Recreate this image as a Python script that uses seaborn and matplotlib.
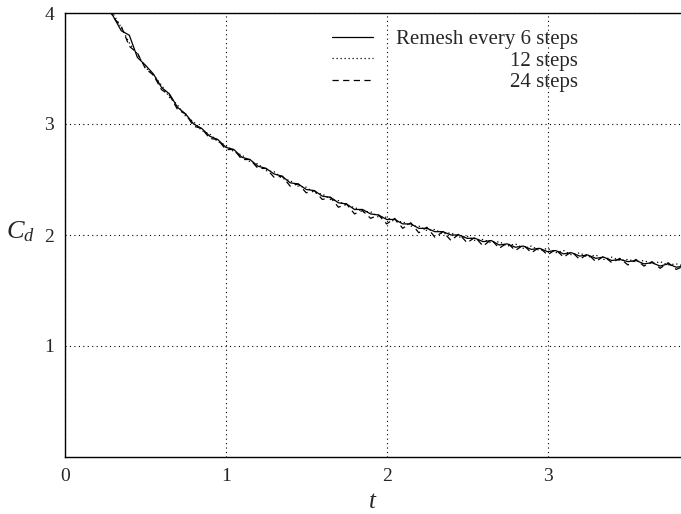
import numpy as np
import pandas as pd
import matplotlib
matplotlib.use("Agg")
import matplotlib.pyplot as plt
import seaborn as sns

t = np.round(np.arange(0.25, 3.851, 0.05), 2)

cd_6 = [4.10, 3.97, 3.84, 3.80, 3.60, 3.53, 3.45, 3.33, 3.27, 3.15,
        3.09, 3.00, 2.96, 2.89, 2.86, 2.79, 2.77, 2.70, 2.68, 2.62,
        2.60, 2.55, 2.53, 2.47, 2.46, 2.41, 2.40, 2.35, 2.34, 2.29,
        2.28, 2.23, 2.23, 2.19, 2.18, 2.14, 2.14, 2.10, 2.10, 2.06,
        2.06, 2.03, 2.03, 2.00, 2.00, 1.97, 1.97, 1.94, 1.95, 1.91,
        1.92, 1.89, 1.90, 1.87, 1.88, 1.85, 1.86, 1.83, 1.84, 1.81,
        1.82, 1.79, 1.80, 1.77, 1.78, 1.76, 1.77, 1.74, 1.75, 1.72,
        1.74, 1.71, 1.72]
cd_12 = [4.11, 3.99, 3.87, 3.73, 3.63, 3.51, 3.44, 3.35, 3.24, 3.17,
         3.07, 3.02, 2.94, 2.91, 2.84, 2.81, 2.75, 2.72, 2.66, 2.64,
         2.58, 2.57, 2.51, 2.49, 2.44, 2.43, 2.38, 2.37, 2.32, 2.31,
         2.26, 2.25, 2.21, 2.21, 2.16, 2.16, 2.12, 2.12, 2.08, 2.08,
         2.04, 2.05, 2.01, 2.02, 1.98, 1.99, 1.95, 1.96, 1.93, 1.94,
         1.90, 1.92, 1.88, 1.90, 1.86, 1.88, 1.84, 1.86, 1.82, 1.84,
         1.80, 1.82, 1.78, 1.80, 1.77, 1.78, 1.76, 1.77, 1.74, 1.76,
         1.73, 1.74, 1.72]
cd_24 = [4.12, 3.96, 3.88, 3.70, 3.64, 3.50, 3.44, 3.31, 3.26, 3.13,
         3.09, 2.98, 2.96, 2.87, 2.86, 2.77, 2.77, 2.68, 2.68, 2.60,
         2.60, 2.52, 2.53, 2.44, 2.46, 2.38, 2.40, 2.32, 2.34, 2.25,
         2.28, 2.19, 2.22, 2.15, 2.18, 2.10, 2.15, 2.06, 2.11, 2.02,
         2.07, 1.98, 2.03, 1.95, 2.01, 1.93, 1.98, 1.90, 1.96, 1.88,
         1.93, 1.86, 1.91, 1.84, 1.89, 1.82, 1.87, 1.80, 1.85, 1.78,
         1.83, 1.76, 1.81, 1.75, 1.79, 1.73, 1.78, 1.72, 1.76, 1.70,
         1.75, 1.69, 1.72]

labels = ["Remesh every 6 steps", "12 steps", "24 steps"]
styles = ["-", (0, (1, 2.2)), (0, (5, 3.5))]
x_ticks = [0, 1, 2, 3]
y_ticks = [1, 2, 3, 4]

sns.set_style("white")
plt.rcParams["font.family"] = ["Liberation Serif", "DejaVu Serif"]
plt.rcParams["mathtext.fontset"] = "custom"
plt.rcParams["mathtext.it"] = "Liberation Serif:italic"
plt.rcParams["mathtext.rm"] = "Liberation Serif"

fig = plt.figure(figsize=(6.81, 5.14), dpi=100)
ax = fig.add_axes([65 / 681, 1 - 457 / 514, 1 - 65 / 681, (457 - 13) / 514])

for vals, lab, ls in zip([cd_6, cd_12, cd_24], labels, styles):
    df = pd.DataFrame({"t": t, "Cd": vals})
    sns.lineplot(data=df, x="t", y="Cd", ax=ax, color="black", lw=0.9,
                 linestyle=ls, label=lab)

ax.set_xlim(0, 3.83)
ax.set_ylim(0, 4)
ax.set_xticks(x_ticks)
ax.set_yticks(y_ticks)
ax.tick_params(length=0, labelsize=14, pad=8)
ax.grid(True, color="black", linestyle=(0, (1, 3)), linewidth=0.8)
for s in ["left", "bottom", "top"]:
    ax.spines[s].set_color("black")
    ax.spines[s].set_linewidth(1.0)
ax.spines["right"].set_visible(False)

ax.set_xlabel(r"$t$", fontsize=18, labelpad=4)
ax.set_ylabel(r"$C_d$", fontsize=19, rotation=0, labelpad=14)
ax.yaxis.set_label_coords(-0.073, 0.48)

leg = ax.legend(loc="upper left", bbox_to_anchor=(0.42, 0.982), frameon=False,
                fontsize=15, handlelength=1.95, handletextpad=1.1,
                labelspacing=0.1, borderaxespad=0)
fig.canvas.draw()
renderer = fig.canvas.get_renderer()
widths = [tx.get_window_extent(renderer).width for tx in leg.get_texts()]
shift = max(widths)
for tx, w in zip(leg.get_texts(), widths):
    tx.set_ha("left")
    tx.set_position((shift - w, 0))

fig.savefig("out.png", dpi=100)
